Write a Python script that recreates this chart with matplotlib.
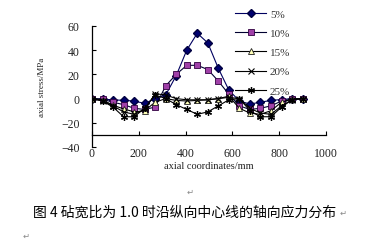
import matplotlib
matplotlib.use("Agg")
import matplotlib.pyplot as plt

# axial coordinates (mm), one point every 45 mm
x_mm = [0, 45, 90, 135, 180, 225, 270, 315, 360, 405, 450,
        495, 540, 585, 630, 675, 720, 765, 810, 855, 900]

s5 = [0, -0.5, -1, -1.5, -2, -4, 0, 3, 19, 40, 54,
      46, 25, 7, -2, -4.5, -3, -1.5, -0.8, 0, 0]
s10 = [0, -0.5, -3, -5, -8, -9, -7, 10.5, 20, 27.5, 27.5,
       24, 14.5, 3.5, -6, -9, -8, -6, -2, -0.5, 0]
s15 = [0, -1, -5.5, -8.5, -11, -10, -3, 0, -1.5, -2, -1.5,
       -1, 0, 2, -8, -12, -13, -10, -3, -0.5, 0]
s20 = [0, -2, -6, -11, -13, -9, 4, 3, 0, -1, -1,
       -1, 0, 1, 0, -8, -12, -13, -6, -1, 0]
s25 = [0, -2, -7, -15, -15, -8, 3, 0, -5, -9, -13,
       -11, -6, -1, 0, -10, -15, -15, -7, -1, 0]

labels = ['5%', '10%', '15%', '20%', '25%']
xticks = [0, 200, 400, 600, 800, 1000]
yticks = [-40, -20, 0, 20, 40, 60]

serif = 'Liberation Serif'

fig = plt.figure(figsize=(3.73, 2.51), dpi=100)
ax = fig.add_axes([0.2466, 0.4104, 0.6273, 0.4821])

lc = '#000030'
ax.plot(x_mm, s5, color='#000060', lw=0.8, marker='D', ms=3.6,
        mfc='#000070', mec='#000040', label=labels[0])
ax.plot(x_mm, s10, color=lc, lw=0.8, marker='s', ms=4.5,
        mfc='#a040a8', mec='#300040', mew=0.6, label=labels[1])
ax.plot(x_mm, s15, color='black', lw=0.8, marker='^', ms=4.8,
        mfc='#ffffb8', mec='#202020', mew=0.6, label=labels[2])
ax.plot(x_mm, s20, color='black', lw=0.8, marker='x', ms=3.8,
        mew=0.8, label=labels[3])
ax.plot(x_mm, s25, color='black', lw=0.8, marker=(6, 2, 0), ms=5,
        mew=0.9, label=labels[4])

ax.set_xlim(0, 1000)
ax.set_ylim(-40, 60)
ax.set_xticks(xticks)
ax.set_yticks(yticks)
ax.spines['top'].set_visible(False)
ax.spines['right'].set_visible(False)
ax.spines['bottom'].set_position(('data', -30))
for sp in ['left', 'bottom']:
    ax.spines[sp].set_linewidth(0.9)
ax.tick_params(axis='both', direction='in', length=3, width=0.8,
               labelsize=8.5)
ax.tick_params(axis='x', pad=9)
ax.tick_params(axis='y', pad=9)
for t in ax.get_xticklabels() + ax.get_yticklabels():
    t.set_fontfamily(serif)
    t.set_color('#222222')

ax.set_xlabel('axial coordinates/mm', fontsize=7.5, family=serif,
              color='#222222')
ax.xaxis.set_label_coords(0.5, -0.115)
ax.set_ylabel('axial stress/MPa', fontsize=6.5, family=serif,
              color='#222222')
ax.yaxis.set_label_coords(-0.197, 0.5)

fig.legend(loc='upper left', bbox_to_anchor=(235 / 373, 1 - 10 / 251),
           frameon=False, prop={'family': serif, 'size': 8},
           handlelength=2.8, handletextpad=0.35, labelspacing=0.85,
           borderpad=0, borderaxespad=0, labelcolor='#333333')

cjk = ['Noto Sans CJK SC', 'DejaVu Sans']
fig.text(0.496, 0.151, '图 4 砧宽比为 1.0 时沿纵向中心线的轴向应力分布',
         ha='center', va='center', fontsize=10, family=cjk, color='black')
fig.text(340 / 373, 0.151, '\u21b5', ha='left', va='center', fontsize=6,
         family=cjk, color='#888888')
fig.text(26 / 373, 1 - 236 / 251, '\u21b5', ha='center', va='center',
         fontsize=6, family=cjk, color='#888888')
fig.text(190 / 373, 1 - 192 / 251, '\u21b5', ha='center', va='center',
         fontsize=6, family=cjk, color='#888888')

fig.savefig('out.png', dpi=100)
